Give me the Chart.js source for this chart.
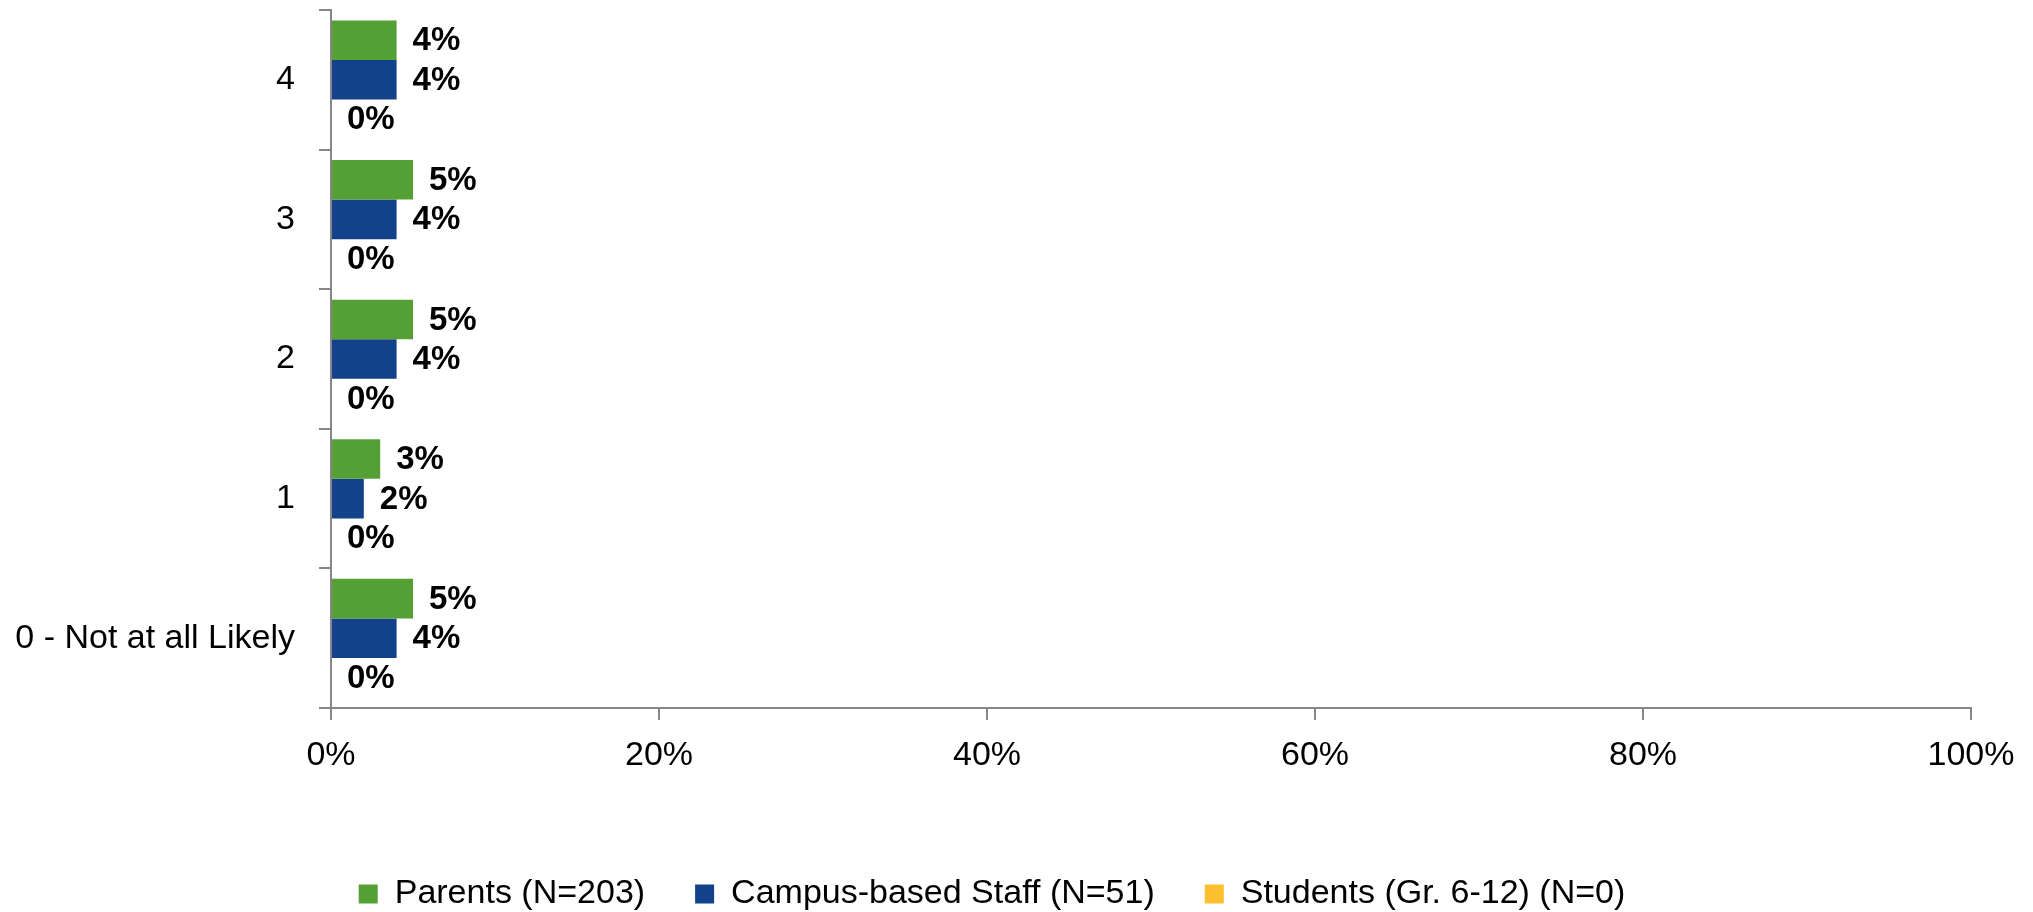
<!DOCTYPE html>
<html>
<head>
<meta charset="utf-8">
<script src="https://cdn.jsdelivr.net/npm/chart.js@4/dist/chart.umd.min.js"></script>
<style>
  html, body { margin: 0; padding: 0; background: #ffffff; }
  #wrap { width: 2033px; height: 912px; }
</style>
</head>
<body>
<div id="wrap"><canvas id="c" width="2033" height="912"></canvas></div>
<script>
// ---- data ----
const categories = ['4', '3', '2', '1', '0 - Not at all Likely'];
const parentsValues = [4, 5, 5, 3, 5];
const staffValues = [4, 4, 4, 2, 4];
const studentsValues = [0, 0, 0, 0, 0];
const seriesNames = ['Parents (N=203)', 'Campus-based Staff (N=51)', 'Students (Gr. 6-12) (N=0)'];
const xTickValues = [0, 20, 40, 60, 80, 100];
const xTickLabels = ['0%', '20%', '40%', '60%', '80%', '100%'];

// ---- styles ----
const FONT = '"Liberation Sans", Arial, sans-serif';
const colors = ['#55A035', '#13418A', '#FCBF2E'];
const AXIS = '#868686';
const LEGEND_H = 85;

const valueLabels = {
  id: 'valueLabels',
  afterDatasetsDraw(chart) {
    const ctx = chart.ctx;
    ctx.save();
    ctx.font = 'bold 33px ' + FONT;
    ctx.fillStyle = '#000000';
    ctx.textAlign = 'left';
    ctx.textBaseline = 'middle';
    chart.data.datasets.forEach((ds, di) => {
      const meta = chart.getDatasetMeta(di);
      meta.data.forEach((el, i) => {
        ctx.fillText(ds.data[i] + '%', el.x + 16, el.y + 1);
      });
    });
    ctx.restore();
  }
};

const legendHeightFix = {
  id: 'legendHeightFix',
  beforeLayout(chart) {
    const lg = chart.legend;
    if (lg && !lg.__fixed) {
      const orig = lg.fit;
      lg.fit = function () { orig.call(this); this.height = LEGEND_H; };
      lg.__fixed = true;
    }
  }
};

new Chart(document.getElementById('c'), {
  type: 'bar',
  data: {
    labels: categories,
    datasets: [
      { label: seriesNames[0], data: parentsValues, backgroundColor: colors[0] },
      { label: seriesNames[1], data: staffValues, backgroundColor: colors[1] },
      { label: seriesNames[2], data: studentsValues, backgroundColor: colors[2] }
    ]
  },
  options: {
    indexAxis: 'y',
    responsive: false,
    devicePixelRatio: 1,
    animation: false,
    layout: { padding: { top: 10, left: 13, right: 62, bottom: 0 } },
    datasets: { bar: { categoryPercentage: 0.85, barPercentage: 1.0 } },
    scales: {
      x: {
        type: 'linear',
        min: 0,
        max: 100,
        afterBuildTicks(s) { s.ticks = xTickValues.map(v => ({ value: v })); },
        ticks: {
          font: { family: FONT, size: 34 },
          color: '#000000',
          padding: 15,
          maxRotation: 0,
          callback(v) { const i = xTickValues.indexOf(v); return i >= 0 ? xTickLabels[i] : ''; }
        },
        grid: { drawOnChartArea: false, drawTicks: true, tickLength: 12, color: AXIS, lineWidth: 2 },
        border: { display: true, color: AXIS, width: 2 },
        afterFit(s) { s.height = 119; s.paddingLeft = 0; s.paddingRight = 0; }
      },
      y: {
        type: 'category',
        ticks: {
          font: { family: FONT, size: 34 },
          color: '#000000',
          padding: 24
        },
        grid: { offset: true, drawOnChartArea: false, drawTicks: true, tickLength: 12, color: AXIS, lineWidth: 2 },
        border: { display: true, color: AXIS, width: 2 },
        afterFit(s) { s.width = 318; s.paddingTop = 0; s.paddingBottom = 0; }
      }
    },
    plugins: {
      legend: {
        position: 'bottom',
        labels: {
          font: { family: FONT, size: 34 },
          color: '#000000',
          boxWidth: 19,
          boxHeight: 19,
          padding: 50
        }
      },
      tooltip: { enabled: false }
    }
  },
  plugins: [valueLabels, legendHeightFix]
});
</script>
</body>
</html>
